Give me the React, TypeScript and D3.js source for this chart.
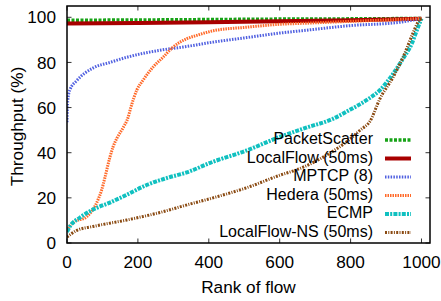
import React from 'react';
import { scaleLinear, line, curveMonotoneX } from 'd3';

// values (rank of flow -> throughput %)
const packetRank = [0, 200, 400, 600, 800, 1000];
const packetValue = [98.7, 98.8, 99.0, 99.2, 99.3, 99.5];

const localRank = [0, 200, 400, 600, 800, 1000];
const localValue = [97.3, 97.5, 97.8, 98.2, 98.7, 99.3];

const mptcpRank = [0, 2, 8, 28, 73, 121, 169, 214, 262, 327, 412, 507, 600, 677, 798, 939, 1000];
const mptcpValue = [53.5, 63, 67.8, 72, 77.5, 80, 82.3, 84, 85.4, 86.8, 89, 91, 93, 94.3, 96.3, 97.8, 99.5];

const hederaRank = [0, 17, 56, 73, 87, 98, 107, 121, 130, 141, 158, 172, 180, 197, 214, 243, 271, 299, 338, 366, 412, 507, 600, 677, 800, 900, 1000];
const hederaValue = [5.5, 9, 11.7, 14.8, 19, 23.6, 29, 38, 42.6, 46.5, 51, 55.5, 60, 67.8, 72, 78, 82.3, 86.8, 90.5, 92, 94, 95.6, 96.9, 97.4, 98.2, 98.8, 99.5];

const ecmpRank = [0, 8, 37, 73, 121, 169, 226, 282, 338, 412, 507, 600, 677, 750, 798, 846, 883, 920, 948, 973, 987, 1000];
const ecmpValue = [5, 7.3, 11.3, 14.8, 17.9, 21.4, 25.8, 28.8, 31.3, 36, 41, 47, 51.2, 55, 59, 63.4, 67.8, 75, 81.7, 88.5, 94.3, 99.5];

const nsRank = [0, 28, 73, 169, 262, 341, 412, 507, 600, 657, 733, 790, 827, 855, 883, 920, 948, 976, 990, 1000];
const nsValue = [2.6, 5.6, 7.3, 10.2, 13.5, 17, 20, 24.5, 30, 33, 39, 45, 50, 54, 64, 73.5, 82.3, 93, 97.8, 99.5];

const xTicks = [0, 200, 400, 600, 800, 1000];
const yTicks = [0, 20, 40, 60, 80, 100];

const series = [
  { name: 'PacketScatter', rank: packetRank, value: packetValue, color: '#17a317', width: 3.5, dash: '3,1.5' },
  { name: 'LocalFlow (50ms)', rank: localRank, value: localValue, color: '#a80000', width: 4, dash: null },
  { name: 'MPTCP (8)', rank: mptcpRank, value: mptcpValue, color: '#5060e0', width: 3, dash: '1.5,1.3' },
  { name: 'Hedera (50ms)', rank: hederaRank, value: hederaValue, color: '#ff6a2a', width: 3, dash: '1.5,1' },
  { name: 'ECMP', rank: ecmpRank, value: ecmpValue, color: '#10c0c0', width: 4, dash: '4,1.2,2,1.2' },
  { name: 'LocalFlow-NS (50ms)', rank: nsRank, value: nsValue, color: '#8a4a12', width: 3, dash: '2,1.3,1,1.3' },
];

const W = 441;
const H = 301;
const margin = { top: 6, right: 11, bottom: 58, left: 67 };
const font = '"Liberation Sans", Arial, Helvetica, sans-serif';
const fs = 17.2;
const legendFs = 16;

const App = () => {
  const x = scaleLinear().domain([0, 1024]).range([margin.left, W - margin.right]);
  const y = scaleLinear().domain([0, 105]).range([H - margin.bottom, margin.top]);
  const x0 = margin.left;
  const x1 = W - margin.right;
  const y0 = H - margin.bottom;
  const y1 = margin.top;
  const tick = 4.5;

  // legend sits inside the plot, text right-aligned before the line samples
  const legendRight = 373;
  const legendTop = 140;
  const legendStep = 18.5;

  const gen = line<[number, number]>()
    .x((d) => x(d[0]))
    .y((d) => y(d[1]))
    .curve(curveMonotoneX);

  return (
    <svg width={W} height={H} style={{ position: 'absolute', left: 0, top: 0, display: 'block' }}
      fontFamily={font}>
      <rect width={W} height={H} fill="#fff" />
      <defs>
        <clipPath id="plot">
          <rect x={x0} y={y1} width={x1 - x0} height={y0 - y1} />
        </clipPath>
      </defs>

      {series.map((s) => {
        const pts = s.rank.map((r, i) => [r, s.value[i]] as [number, number]);
        return (
          <path key={s.name} d={gen(pts) || ''} fill="none" stroke={s.color}
            strokeWidth={s.width} strokeDasharray={s.dash || undefined} clipPath="url(#plot)" />
        );
      })}

      {/* ticks, mirrored on all sides */}
      {xTicks.map((t) => (
        <g key={'x' + t}>
          <line x1={x(t)} x2={x(t)} y1={y0} y2={y0 - tick} stroke="#333" strokeWidth={1} />
          <line x1={x(t)} x2={x(t)} y1={y1} y2={y1 + tick} stroke="#333" strokeWidth={1} />
          <text x={x(t)} y={y0 + 25} textAnchor="middle" fontSize={fs} fill="#000">{t}</text>
        </g>
      ))}
      {yTicks.map((t) => (
        <g key={'y' + t}>
          <line x1={x0} x2={x0 + tick} y1={y(t)} y2={y(t)} stroke="#333" strokeWidth={1} />
          <line x1={x1} x2={x1 - tick} y1={y(t)} y2={y(t)} stroke="#333" strokeWidth={1} />
          <text x={56} y={y(t)} dy="0.36em" textAnchor="end" fontSize={fs} fill="#000">{t}</text>
        </g>
      ))}

      <rect x={x0} y={y1} width={x1 - x0} height={y0 - y1} fill="none" stroke="#000" strokeWidth={1.5} />

      {series.map((s, i) => {
        const ly = legendTop + i * legendStep;
        return (
          <g key={'lg' + s.name}>
            <text x={legendRight} y={ly + 4} textAnchor="end" fontSize={legendFs} fill="#000">{s.name}</text>
            <line x1={385} x2={411} y1={ly} y2={ly} stroke={s.color}
              strokeWidth={s.width} strokeDasharray={s.dash || undefined} />
          </g>
        );
      })}

      <text transform={`translate(23,126.5) rotate(-90)`} textAnchor="middle" fontSize={fs} fill="#000">
        Throughput (%)
      </text>
      <text x={(x0 + x1) / 2} y={293} textAnchor="middle" fontSize={fs} fill="#000">Rank of flow</text>
    </svg>
  );
};

export default App;
